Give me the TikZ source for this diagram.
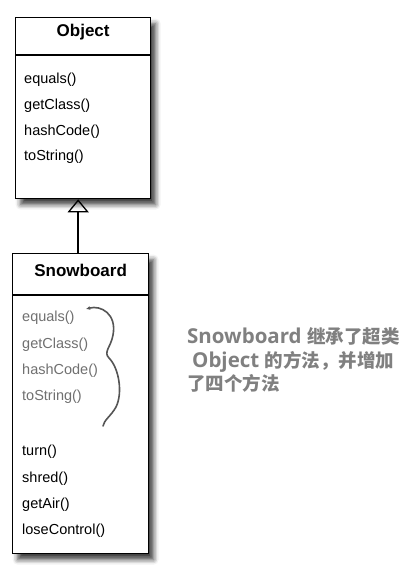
\documentclass[tikz,border=0pt]{standalone}
\usepackage{fontspec}
\setmainfont{Liberation Sans}
\newfontfamily\cjkfont{Noto Sans CJK SC}
\newfontfamily\latinfont{Open Sans}
\usetikzlibrary{arrows.meta,positioning,shadows.blur}
\definecolor{inherited}{HTML}{707070}
\definecolor{notegray}{HTML}{808080}
\definecolor{bracegray}{HTML}{555555}

\begin{document}
\begin{tikzpicture}[
  x=1pt,y=-1pt,
  classbox/.style={draw,line width=1.3pt,fill=white,anchor=north west,inner sep=0pt,
    blur shadow={shadow xshift=5pt,shadow yshift=-6pt,shadow blur radius=5pt,shadow opacity=75}},
  classname/.style={font=\fontsize{17}{20}\selectfont\bfseries},
  method/.style={anchor=west,inner sep=0pt,font=\fontsize{14.5}{17}\selectfont},
  oldmethod/.style={method,text=inherited},
  note/.style={anchor=base west,inner sep=0pt,text=notegray,font=\fontsize{18.5}{22}\selectfont\bfseries}
]
  \useasboundingbox (0,0) rectangle (404,572);

  % superclass
  \node[classbox,minimum width=135pt,minimum height=181pt] (object) at (15,17) {};
  \draw[line width=1.3pt] ([yshift=-38pt]object.north west) -- ([yshift=-38pt]object.north east);
  \node[classname] (objectname) at ([yshift=-15pt]object.north) {Object};
  \foreach \m [count=\i from 0] in {equals(),getClass(),hashCode(),toString()}
    \node[method] (objectm\i) at (24,{80+25.7*\i}) {\m};

  % subclass
  \node[classbox,minimum width=136pt,minimum height=300pt] (snowboard) at (12,253) {};
  \draw[line width=1.3pt] ([yshift=-42pt]snowboard.north west) -- ([yshift=-42pt]snowboard.north east);
  \node[classname] (snowboardname) at ([yshift=-17pt]snowboard.north) {Snowboard};
  \foreach \m [count=\i from 0] in {equals(),getClass(),hashCode(),toString()}
    \node[oldmethod] (oldm\i) at (22,{318+26.4*\i}) {\m};
  \foreach \m [count=\i from 0] in {turn(),shred(),getAir(),loseControl()}
    \node[method] (newm\i) at (22,{452+26.4*\i}) {\m};

  % inheritance
  \coordinate (arrowtop) at ([xshift=-2.5pt]snowboard.north);
  \draw[line width=2pt,-{Triangle[open,width=21pt,length=13pt,line width=1.3pt]}]
    (arrowtop) -- (arrowtop |- object.south);

  % brace
  \draw[bracegray,line width=1.6pt,line cap=round,{Latex[length=4pt,width=4pt]}-]
    (86,309) .. controls (101,305) and (117,314) .. (113,335)
    .. controls (111,347) and (103,352) .. (109,358)
    .. controls (119,368) and (123,393) .. (116,407)
    .. controls (111,416) and (104,420) .. (103,426);

  % note
  \node[note] (note1) at (187,343) {\latinfont\fontsize{20.5}{22}\selectfont Snowboard \cjkfont\fontsize{18.5}{22}\selectfont 继承了超类};
  \node[note] (note2) at (192,367) {\latinfont\fontsize{20.5}{22}\selectfont Object \cjkfont\fontsize{18.5}{22}\selectfont 的方法，并增加};
  \node[note] (note3) at (187,390) {\cjkfont 了四个方法};
\end{tikzpicture}
\end{document}
